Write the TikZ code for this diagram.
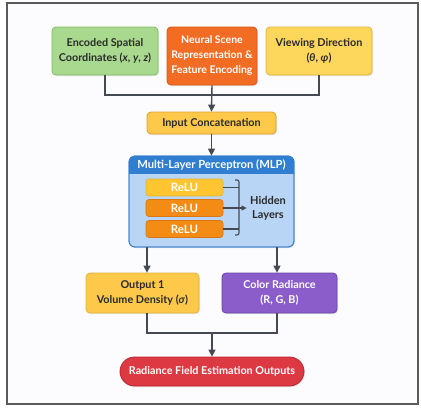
\documentclass[tikz,border=0pt]{standalone}
\usepackage{fontspec}
\setmainfont{Lato}
\usetikzlibrary{arrows.meta,shadows,calc}
\definecolor{frameC}{HTML}{5A5A5A}
\definecolor{lineC}{HTML}{454A52}
\definecolor{txtC}{HTML}{2A2A2A}
\definecolor{greenF}{HTML}{A9D98F}
\definecolor{greenD}{HTML}{7DBA62}
\definecolor{orangeF}{HTML}{F36C24}
\definecolor{orangeD}{HTML}{D4561A}
\definecolor{yellowF}{HTML}{FDD65C}
\definecolor{yellowD}{HTML}{E2B43C}
\definecolor{inputF}{HTML}{FEC84A}
\definecolor{inputD}{HTML}{DDA034}
\definecolor{mlpF}{HTML}{B9D5F6}
\definecolor{mlpH}{HTML}{2F7ED2}
\definecolor{mlpD}{HTML}{3A7FC8}
\definecolor{reluY}{HTML}{FEC530}
\definecolor{reluO}{HTML}{F38B15}
\definecolor{reluD}{HTML}{D7761A}
\definecolor{purpleF}{HTML}{8A5DCA}
\definecolor{purpleD}{HTML}{6A45A6}
\definecolor{redF}{HTML}{DD3943}
\definecolor{redD}{HTML}{B82631}
\tikzset{
  box/.style={draw, line width=0.8pt, rounded corners=4pt, align=center, inner sep=0pt,
    font=\fontsize{10.8}{15}\selectfont\bfseries, text=txtC,
    drop shadow={shadow xshift=1pt, shadow yshift=-1.2pt, opacity=0.18}},
  wbox/.style={box, text=white},
  relu/.style={draw=reluD, line width=0.7pt, rounded corners=3pt, minimum width=77pt, minimum height=17pt,
    inner sep=0pt, font=\fontsize{11.5}{12}\selectfont\bfseries, text=white},
  conn/.style={draw=lineC, line width=1.4pt},
  arr/.style={conn, -{Triangle[length=7pt,width=7pt]}},
  brk/.style={draw=lineC, line width=1.1pt},
}
\begin{document}
\begin{tikzpicture}[x=1pt,y=-1pt]
\useasboundingbox (0,0) rectangle (421,408);
\fill[white] (0,0) rectangle (421,408);
\fill[white!97!blue!40!white] (7,3) rectangle (418,404);
\draw[frameC, line width=1.2pt] (7,3) rectangle (418,404);

% top row
\node[box, draw=greenD, fill=greenF, minimum width=106pt, minimum height=48pt] (enc) at (105,51)
  {Encoded Spatial\\Coordinates (\textit{x}, \textit{y}, \textit{z})};
\node[wbox, draw=orangeD, fill=orangeF, minimum width=90pt, minimum height=58pt,
  font=\fontsize{10.5}{15}\selectfont\bfseries] (nsr) at (212,56)
  {Neural Scene\\Representation \&\\Feature Encoding};
\node[box, draw=yellowD, fill=yellowF, minimum width=106pt, minimum height=48pt] (view) at (319,51)
  {Viewing Direction\\(\textit{θ}, \textit{φ})};

\node[box, draw=inputD, fill=inputF, minimum width=129pt, minimum height=22pt] (inp) at (211.5,123)
  {Input Concatenation};

\coordinate (j1) at (212,95);
\draw[conn] (enc.south) |- (j1);
\draw[conn] (view.south) |- (j1);
\draw[arr] (nsr.south) -- (inp.north);

% MLP
\node[box, draw=mlpD, fill=mlpF, minimum width=165pt, minimum height=91pt, rounded corners=6pt] (mlp) at (211.5,201.5) {};
\begin{scope}
  \clip[rounded corners=6pt] (129,156) rectangle (294,247);
  \fill[mlpH] (129,156) rectangle (294,174);
\end{scope}
\draw[mlpD, line width=0.8pt, rounded corners=6pt] (129,156) rectangle (294,247);
\node[font=\fontsize{11.2}{12}\selectfont\bfseries, text=white] (mlpt) at (211.5,165) {Multi-Layer Perceptron (MLP)};
\draw[arr] (inp.south) -- (mlp.north);

\node[relu, fill=reluY, draw=yellowD] (r1) at (184.5,187.5) {ReLU};
\node[relu, fill=reluO] (r2) at (184.5,208) {ReLU};
\node[relu, fill=reluO] (r3) at (184.5,229) {ReLU};

\coordinate (bt) at (239,180);
\coordinate (bb) at (239,235);
\draw[brk] (r1.east) -- (r1.east -| bt);
\draw[brk] (r2.east) -- (r2.east -| bt);
\draw[brk] (r3.east) -- (r3.east -| bt);
\draw[brk, rounded corners=2pt] ([xshift=-4pt]bt) -- (bt) -- (bb) -- ([xshift=-4pt]bb);
\node[font=\fontsize{11}{14}\selectfont\bfseries, text=txtC, align=center] (hid) at (268,208) {Hidden\\Layers};
\draw[brk, -{Triangle[length=5pt,width=5pt]}] (r2.east -| bt) -- (hid.west);

% outputs
\node[box, draw=yellowD, fill=inputF, minimum width=113pt, minimum height=40pt] (out1) at (142.5,293)
  {Output 1\\Volume Density (\textit{σ})};
\node[wbox, draw=purpleD, fill=purpleF, minimum width=115pt, minimum height=40pt] (col) at (279.5,293)
  {Color Radiance\\(R, G, B)};
\draw[arr] ([xshift=4.5pt]out1.north |- mlp.south) -- ([xshift=4.5pt]out1.north);
\draw[arr] ([xshift=-2.5pt]col.north |- mlp.south) -- ([xshift=-2.5pt]col.north);

\node[wbox, draw=redD, fill=redF, minimum width=184pt, minimum height=29pt, rounded corners=14.5pt] (fin) at (212,371.5)
  {Radiance Field Estimation Outputs};
\coordinate (j2) at (212,333);
\draw[conn] ([xshift=4.5pt]out1.south) |- (j2);
\draw[conn] ([xshift=-2.5pt]col.south) |- (j2);
\draw[arr] (j2) -- (fin.north);
\end{tikzpicture}
\end{document}
